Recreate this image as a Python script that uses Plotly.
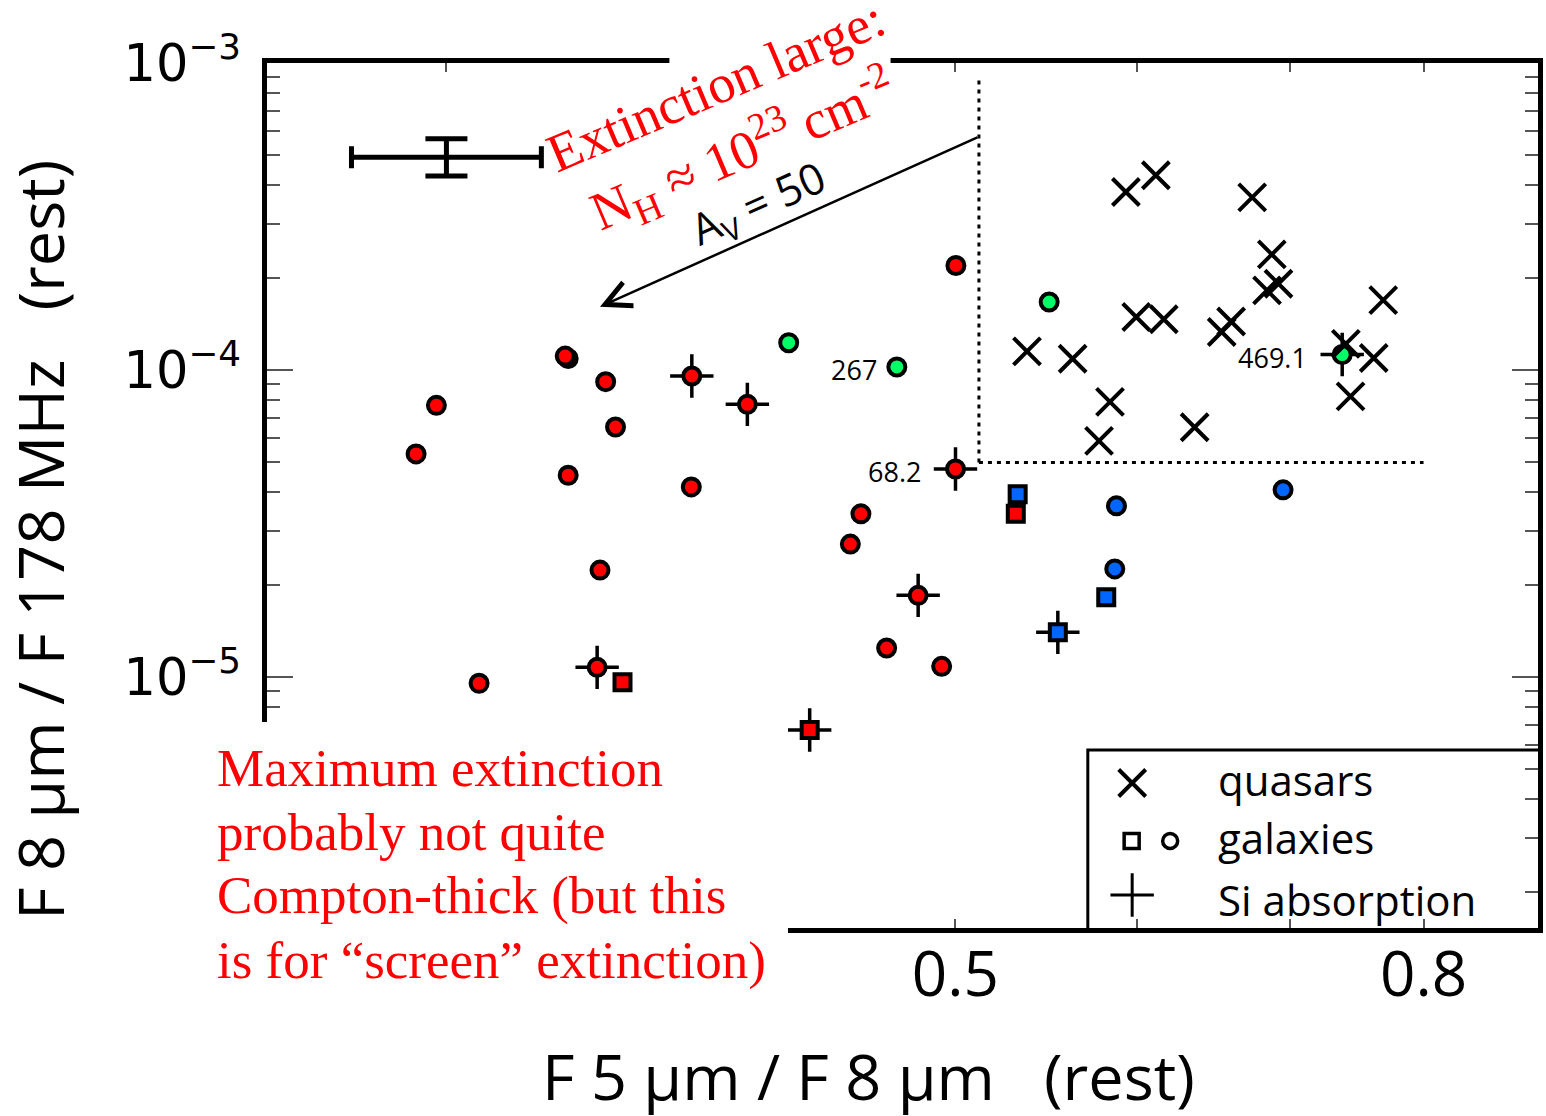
import numpy as np
import plotly.graph_objects as go

# ---------------- data ----------------
# quasars (black x)
quasar_x = [0.5934, 0.6115, 0.6736, 0.687, 0.6837, 0.6916, 0.7683, 0.5373, 0.5625, 0.5996,
            0.6164, 0.6595, 0.6533, 0.740, 0.761, 0.7435, 0.584, 0.5776, 0.6358]
quasar_y = [3.80e-4, 4.31e-4, 3.65e-4, 2.38e-4, 1.818e-4, 1.91e-4, 1.69e-4, 1.15e-4, 1.088e-4, 1.488e-4,
            1.463e-4, 1.439e-4, 1.33e-4, 1.217e-4, 1.094e-4, 8.21e-5, 7.87e-5, 5.88e-5, 6.51e-5]

# galaxies
gal_x = [0.297, 0.291, 0.339, 0.338, 0.352, 0.3555, 0.339, 0.3836, 0.4548, 0.450,
         0.350, 0.4667, 0.310, 0.4932, 0.5003,
         0.3838, 0.4058, 0.5001, 0.4817, 0.349,
         0.358, 0.5313, 0.432,
         0.423, 0.4715, 0.5494, 0.7373,
         0.5878, 0.6948, 0.5868, 0.5323, 0.5818, 0.5542]
gal_y = [7.67e-5, 5.33e-5, 1.09e-4, 1.11e-4, 9.16e-5, 6.52e-5, 4.54e-5, 4.16e-5, 3.40e-5, 2.71e-5,
         2.23e-5, 1.243e-5, 9.54e-6, 1.083e-5, 2.19e-4,
         9.56e-5, 7.73e-5, 4.76e-5, 1.845e-5, 1.075e-5,
         9.61e-6, 3.40e-5, 6.72e-6,
         1.227e-4, 1.023e-4, 1.665e-4, 1.123e-4,
         3.61e-5, 4.07e-5, 2.25e-5, 3.94e-5, 1.818e-5, 1.398e-5]
gal_color = ["red"] * 15 + ["red"] * 5 + ["red"] * 3 + ["green"] * 4 + ["blue"] * 6
gal_shape = (["circle"] * 15 + ["circle"] * 5 + ["square"] * 3 + ["circle"] * 4
             + ["circle"] * 3 + ["square"] * 3)
gal_si = ([False] * 15 + [True] * 5 + [False, False, True] + [False, False, False, True]
          + [False] * 5 + [True])
gal_label = [""] * 17 + ["68.2"] + [""] * 6 + ["267", "", "469.1"] + [""] * 6

# representative error bar
err_x, err_y = 0.300, 4.93e-4
err_x_factor, err_y_factor = 1.10, 1.15

# axes ticks
x_tickvals = [0.3, 0.4, 0.5, 0.6, 0.7, 0.8]
x_ticktext = ["", "", "0.5", "", "", "0.8"]
y_tickvals = [1e-5, 1e-4, 1e-3]
y_ticktext = ["10<sup>\u22125</sup>", "10<sup>\u22124</sup>", "10<sup>\u22123</sup>"]
y_minor = [m * 10.0 ** k for k in (-6, -5, -4) for m in range(2, 10)]

# dotted quasar region and extinction vector
box_x0, box_x1 = 0.512, 0.80
box_y0, box_y1 = 5.0e-5, 9.0e-4
arrow_tail = (0.512, 5.75e-4)
arrow_head = (0.350, 1.607e-4)

# ---------------- styles ----------------
COLORS = {"red": "#FF0000", "green": "#00FF66", "blue": "#0066FF"}
SANS = "Open Sans"
SERIF = "Liberation Serif"

fig = go.Figure()

# error bar
fig.add_trace(go.Scatter(
    x=[err_x], y=[err_y], mode="markers",
    marker=dict(size=1, color="black", opacity=0),
    error_x=dict(type="data", symmetric=False,
                 array=[err_x * (err_x_factor - 1)],
                 arrayminus=[err_x * (1 - 1 / err_x_factor)],
                 thickness=5, width=11, color="black"),
    error_y=dict(type="data", symmetric=False,
                 array=[err_y * (err_y_factor - 1)],
                 arrayminus=[err_y * (1 - 1 / err_y_factor)],
                 thickness=5, width=21, color="black"),
    hoverinfo="skip"))

# Si absorption crosses (under the points)
si_x = [x for x, s in zip(gal_x, gal_si) if s]
si_y = [y for y, s in zip(gal_y, gal_si) if s]
fig.add_trace(go.Scatter(
    x=si_x, y=si_y, mode="markers",
    marker=dict(symbol="cross-thin-open", size=31, color="black", opacity=1,
                line=dict(width=3.5, color="black"))))

# galaxies
fig.add_trace(go.Scatter(
    x=gal_x, y=gal_y, mode="markers",
    marker=dict(symbol=gal_shape, opacity=1,
                size=[17 if s == "circle" else 16 for s in gal_shape],
                color=[COLORS[c] for c in gal_color],
                line=dict(width=4, color="black"))))

# quasars
fig.add_trace(go.Scatter(
    x=quasar_x, y=quasar_y, mode="markers",
    marker=dict(symbol="x-thin-open", size=27, color="black", opacity=1,
                line=dict(width=4, color="black"))))

# legend markers (in a helper overlay axis spanning the plot area)
leg_mx = [0.6807, 0.6803, 0.7106, 0.6807]
leg_my = [0.1676, 0.1006, 0.1006, 0.0382]
leg_sym = ["x-thin-open", "square-open", "circle-open", "cross-thin-open"]
leg_size = [27, 15, 15, 31]
leg_lw = [4, 3.5, 3.5, 3]
fig.add_trace(go.Scatter(
    x=leg_mx, y=leg_my, mode="markers", xaxis="x2", yaxis="y2",
    marker=dict(symbol=leg_sym, size=leg_size, color="black", opacity=1,
                line=dict(width=leg_lw, color="black")),
    cliponaxis=False))

shapes = [
    # dotted quasar region
    dict(type="line", xref="x", yref="y", x0=box_x0, x1=box_x0, y0=box_y0, y1=box_y1,
         line=dict(color="black", width=3, dash="4px,5px")),
    dict(type="line", xref="x", yref="y", x0=box_x0, x1=box_x1, y0=box_y0, y1=box_y0,
         line=dict(color="black", width=3, dash="4px,5px")),
    # legend frame
    dict(type="rect", xref="paper", yref="paper", x0=0.6458, x1=1.002, y0=-0.002, y1=0.2058,
         line=dict(color="black", width=3), fillcolor="white", layer="below"),
    # white box behind the lower-left note
    dict(type="rect", xref="paper", yref="paper", x0=-0.0486, x1=0.4099, y0=-0.0832, y1=0.2382,
         line=dict(width=0), fillcolor="white", layer="above"),
    # white background of the rotated note where it crosses the top frame
    dict(type="rect", xref="paper", yref="paper", x0=0.3166, x1=0.4906, y0=0.9896, y1=1.015,
         line=dict(width=0), fillcolor="white", layer="above"),
]

annotations = []
# point labels
for x, y, lab, s in zip(gal_x, gal_y, gal_label, gal_si):
    if lab:
        annotations.append(dict(
            x=np.log10(x), y=np.log10(y), xref="x", yref="y", text=lab,
            showarrow=False, xanchor="right", yanchor="middle",
            xshift=-33 if s else -18, yshift=-3,
            font=dict(family=SANS, size=27, color="black")))

# extinction arrow
annotations.append(dict(
    x=np.log10(arrow_head[0]), y=np.log10(arrow_head[1]), xref="x", yref="y",
    ax=np.log10(arrow_tail[0]), ay=np.log10(arrow_tail[1]), axref="x", ayref="y",
    text="", showarrow=True, arrowhead=5, arrowsize=2, arrowwidth=2.5,
    arrowcolor="black", standoff=0, startstandoff=0))
annotations.append(dict(
    x=0.3864, y=0.836, xref="paper", yref="paper", xanchor="center", yanchor="middle",
    text="A<sub>V</sub> = 50", textangle=-24, showarrow=False,
    font=dict(family=SANS, size=43, color="black")))
annotations.append(dict(
    x=0.3652, y=0.9318, xref="paper", yref="paper", xanchor="center", yanchor="middle",
    text="Extinction large:<br>N<sub>H</sub> \u2248 10<sup>23</sup> cm<sup>-2</sup>",
    textangle=-23, showarrow=False, align="center",
    font=dict(family=SERIF, size=54, color="#FF0000")))

# lower-left note
note_lines = ["Maximum extinction", "probably not quite",
              "Compton-thick (but this", "is for \u201cscreen\u201d extinction)"]
note_y = [0.185, 0.111, 0.037, -0.037]
for t, yy in zip(note_lines, note_y):
    annotations.append(dict(
        x=-0.0408, y=yy, xref="paper", yref="paper", text=t, showarrow=False,
        xanchor="left", yanchor="middle",
        font=dict(family=SERIF, size=53, color="#FF0000")))

# legend labels
for t, yy in zip(["quasars", "galaxies", "Si absorption"], [0.1711, 0.1052, 0.0324]):
    annotations.append(dict(
        x=0.7466, y=yy, xref="paper", yref="paper", text=t, showarrow=False,
        xanchor="left", yanchor="middle", font=dict(family=SANS, size=42, color="black")))

# axis titles
annotations.append(dict(
    x=0.4734, y=-0.171, xref="paper", yref="paper", showarrow=False,
    text="F 5 \u03bcm / F 8 \u03bcm \u00a0 (rest)", xanchor="center", yanchor="middle",
    font=dict(family=SANS, size=63, color="black")))
annotations.append(dict(
    x=-0.1795, y=0.4485, xref="paper", yref="paper", showarrow=False, textangle=-90,
    text="F 8 \u03bcm / F 178 MHz \u00a0 (rest)", xanchor="center", yanchor="middle",
    font=dict(family=SANS, size=63, color="black")))

fig.update_layout(
    width=1546, height=1116,
    margin=dict(l=267, r=3, t=63, b=188),
    paper_bgcolor="white", plot_bgcolor="white",
    showlegend=False,
    font=dict(family=SANS, color="black"),
    shapes=shapes, annotations=annotations,
    xaxis=dict(type="log", range=[-0.6011, -0.0470],
               tickvals=x_tickvals, ticktext=x_ticktext,
               ticks="inside", ticklen=9, tickwidth=1.5, tickcolor="#555",
               showline=True, linewidth=4.5, linecolor="black", mirror="allticks",
               showgrid=False, zeroline=False, ticklabelstandoff=-11,
               tickfont=dict(family=SANS, size=62, color="black")),
    yaxis=dict(type="log", range=[-5.8176, -3.0],
               tickvals=y_tickvals, ticktext=y_ticktext,
               ticks="inside", ticklen=26, tickwidth=1.5, tickcolor="#555",
               minor=dict(tickvals=y_minor, ticks="inside", ticklen=13,
                          tickwidth=1.5, tickcolor="#555"),
               showline=True, linewidth=4.5, linecolor="black", mirror="allticks",
               showgrid=False, zeroline=False, ticklabelstandoff=11,
               tickfont=dict(family="DejaVu Sans", size=51, color="black")),
    xaxis2=dict(overlaying="x", range=[0, 1], visible=False, anchor="y2"),
    yaxis2=dict(overlaying="y", range=[0, 1], visible=False, anchor="x2"),
)

fig.write_html("out.html")
